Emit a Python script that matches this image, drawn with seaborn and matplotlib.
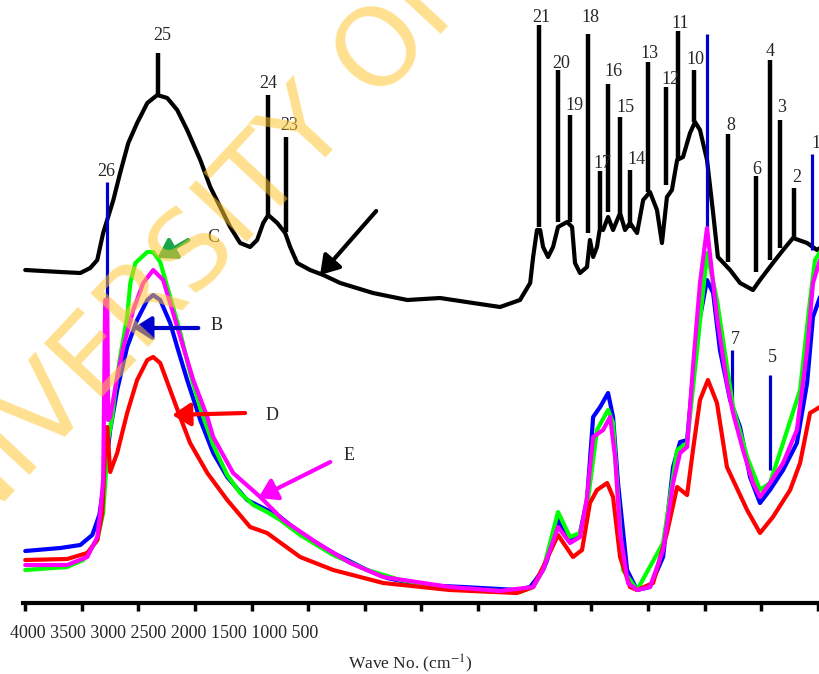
import numpy as np
import pandas as pd
import matplotlib
matplotlib.use('Agg')
import matplotlib.pyplot as plt
import seaborn as sns

# ---- spectra: wavenumber (cm-1) and relative intensity ----
wn_A = [4000, 3845, 3757, 3713, 3682, 3656, 3611, 3581, 3545, 3506, 3461, 3417, 3373, 3329, 3285,
        3227, 3183, 3139, 3095, 3051, 3007, 2976, 2949, 2927, 2887, 2852, 2830, 2799, 2742, 2684,
        2609, 2464, 2313, 2168, 2022, 1903, 1815, 1770, 1757, 1740, 1726, 1713, 1691, 1669, 1647,
        1607, 1585, 1572, 1550, 1519, 1506, 1492, 1475, 1461, 1448, 1426, 1404, 1373, 1351, 1329,
        1298, 1271, 1241, 1210, 1188, 1166, 1144, 1121, 1095, 1064, 1042, 1020, 989, 962, 941,
        887, 843, 786, 755, 698, 653, 609, 547, 503, 490]
int_A = [333, 331, 330, 335, 343, 370, 403, 430, 460, 480, 500, 508, 505, 493, 473,
         443, 416, 396, 376, 360, 356, 363, 380, 388, 380, 370, 356, 340, 333, 328,
         320, 310, 303, 305, 300, 296, 303, 320, 346, 373, 373, 356, 346, 356, 376,
         381, 376, 340, 330, 336, 363, 346, 356, 376, 373, 386, 373, 390, 373, 380,
         370, 403, 411, 393, 360, 406, 413, 443, 446, 470, 481, 473, 443, 390, 346,
         333, 320, 313, 323, 340, 353, 365, 360, 353, 355]

wn_B = [4000, 3845, 3757, 3704, 3673, 3656, 3638, 3625, 3594, 3550, 3506, 3461, 3435, 3404, 3360,
        3329, 3285, 3227, 3170, 3108, 3020, 2932, 2874, 2786, 2640, 2490, 2402, 2256, 2066, 1828,
        1770, 1713, 1695, 1647, 1594, 1550, 1519, 1492, 1461, 1426, 1404, 1382, 1342, 1298, 1241,
        1183, 1139, 1108, 1077, 1033, 989, 962, 932, 887, 843, 799, 755, 711, 653, 592,
        547, 521, 490]
int_B = [52, 55, 58, 68, 88, 113, 148, 173, 213, 256, 283, 303, 308, 303, 280,
         256, 223, 183, 150, 126, 103, 93, 86, 70, 50, 33, 25, 18, 16, 13,
         16, 33, 43, 83, 63, 70, 103, 186, 196, 210, 186, 120, 33, 13, 16,
         46, 136, 161, 163, 270, 323, 310, 253, 203, 176, 126, 100, 113, 133, 160,
         220, 286, 306]

wn_C = [4000, 3815, 3744, 3682, 3656, 3634, 3616, 3603, 3581, 3550, 3536, 3514, 3461, 3435, 3404,
        3360, 3316, 3272, 3227, 3170, 3108, 3051, 2993, 2932, 2874, 2786, 2640, 2490, 2344, 2168,
        1991, 1815, 1757, 1713, 1647, 1594, 1550, 1519, 1475, 1426, 1404, 1360, 1298, 1183, 1121,
        1077, 1033, 989, 945, 874, 812, 755, 711, 653, 578, 534, 512, 490]
int_C = [33, 36, 43, 63, 90, 163, 186, 213, 246, 286, 320, 340, 351, 351, 341,
         306, 271, 230, 195, 158, 128, 110, 98, 91, 83, 68, 48, 33, 23, 16,
         13, 11, 16, 33, 91, 66, 70, 96, 173, 193, 180, 33, 13, 60, 153,
         160, 253, 350, 303, 196, 146, 113, 120, 160, 213, 303, 343, 351]

wn_D = [4000, 3815, 3726, 3682, 3660, 3647, 3638, 3625, 3594, 3550, 3506, 3461, 3435, 3404, 3360,
        3316, 3272, 3196, 3108, 3007, 2932, 2786, 2640, 2419, 2124, 1828, 1757, 1713, 1647, 1581,
        1541, 1506, 1475, 1430, 1404, 1373, 1329, 1298, 1227, 1166, 1121, 1077, 1051, 1020, 985,
        945, 901, 874, 812, 755, 698, 622, 578, 534, 490]
int_D = [43, 44, 50, 63, 90, 156, 176, 131, 150, 190, 223, 243, 246, 240, 213,
         186, 160, 130, 103, 76, 70, 46, 33, 20, 13, 10, 16, 36, 68, 46,
         53, 100, 113, 120, 106, 46, 16, 13, 20, 70, 116, 108, 153, 203, 223,
         200, 136, 123, 93, 70, 86, 113, 140, 190, 196]

wn_E = [4000, 3815, 3726, 3682, 3669, 3656, 3647, 3638, 3634, 3625, 3594, 3567, 3523, 3479, 3435,
        3391, 3347, 3302, 3258, 3196, 3170, 3082, 2962, 2861, 2711, 2565, 2419, 2124, 1903, 1757,
        1713, 1647, 1594, 1550, 1519, 1492, 1448, 1417, 1395, 1373, 1338, 1298, 1241, 1183, 1139,
        1108, 1077, 1051, 1020, 989, 945, 901, 874, 830, 786, 755, 711, 653, 592, 547,
        521, 490]
int_E = [38, 38, 46, 66, 90, 123, 303, 303, 183, 186, 226, 256, 293, 320, 333,
         323, 290, 256, 223, 186, 166, 130, 106, 83, 60, 40, 26, 16, 12, 16,
         33, 76, 60, 66, 106, 166, 173, 186, 146, 70, 20, 13, 16, 53, 120,
         150, 156, 236, 320, 375, 286, 220, 190, 153, 120, 106, 120, 140, 173, 253,
         320, 343]

# numbered peak markers on the top (black) spectrum
peak_no = ['25', '24', '23', '21', '20', '19', '18', '17', '16', '15', '14', '13', '12', '11', '10',
           '8', '6', '4', '3', '2']
peak_wn = [3413, 2927, 2848, 1731, 1647, 1594, 1514, 1461, 1426, 1373, 1329, 1249, 1170, 1117, 1046,
           897, 773, 711, 667, 605]
peak_top = [550, 508, 466, 578, 533, 488, 569, 432, 519, 486, 433, 541, 516, 572, 533,
            469, 427, 543, 483, 415]
peak_base = [508, 388, 371, 376, 381, 381, 370, 375, 391, 390, 375, 411, 418, 443, 481,
             341, 331, 343, 355, 366]
peak_label_wn = [3395, 2927, 2834, 1722, 1634, 1576, 1506, 1453, 1404, 1351, 1302, 1245, 1152, 1108, 1042,
                 883, 768, 711, 658, 592]
peak_label_y = [568, 519, 478, 585, 539, 498, 585, 440, 531, 495, 443, 550, 523, 580, 543,
                477, 434, 552, 495, 426]

# blue markers
blue_no = ['26', '', '1', '7', '5']
blue_wn = [3638, 989, 525, 879, 711]
blue_top = [421, 569, 449, 253, 228]
blue_base = [303, 373, 353, 196, 133]
blue_label_wn = [3642, 989, 508, 865, 702]
blue_label_y = [431, 569, 460, 263, 245]

# sample arrows: (tail wn, tail y) -> (head wn, head y)
arrow_name = ['C', 'B', 'D', 'E', '']
arrow_tail_wn = [3280, 3236, 3029, 2653, 2450]
arrow_tail_y = [363, 275, 190, 141, 392]
arrow_head_wn = [3417, 3523, 3351, 2971, 2698]
arrow_head_y = [345, 275, 188, 105, 328]
arrow_text_wn = [3196, 3183, 2940, 2596, 0]
arrow_text_y = [366, 278, 188, 148, 0]

tick_text = '4000 3500 3000 2500 2000 1500 1000 500'

colors = {'A': 'black', 'B': '#0000ff', 'C': '#00ff00', 'D': '#ff0000', 'E': '#ff00ff'}
arrow_colors = ['#1aa64a', '#0000cc', '#ff0000', '#ff00ff', 'black']

frames = []
for key, wn, val in [('A', wn_A, int_A), ('B', wn_B, int_B), ('C', wn_C, int_C),
                     ('D', wn_D, int_D), ('E', wn_E, int_E)]:
    frames.append(pd.DataFrame({'wn': wn, 'val': val, 'sample': key}))
df = pd.concat(frames, ignore_index=True)

sns.set_style('white')
plt.rcParams['font.family'] = ['Liberation Serif', 'DejaVu Serif']
plt.rcParams['mathtext.fontset'] = 'stix'

fig = plt.figure(figsize=(8.2, 6.74), dpi=100)
ax = fig.add_axes([23 / 820, 71 / 674, 797 / 820, 603 / 674])

# black reference spectrum
sns.lineplot(data=df[df['sample'] == 'A'], x='wn', y='val', color='black', lw=3,
             sort=False, estimator=None, ax=ax, zorder=2)

for wn, lo, hi in zip(peak_wn, peak_base, peak_top):
    ax.plot([wn, wn], [lo, hi], color='black', lw=3.2, solid_capstyle='butt', zorder=2)
for name, x, y in zip(peak_no, peak_label_wn, peak_label_y):
    ax.text(x, y, name, ha='center', va='center', fontsize=13, zorder=4)

for wn, lo, hi in zip(blue_wn, blue_base, blue_top):
    ax.plot([wn, wn], [lo, hi], color='#0000cc', lw=2.3, solid_capstyle='butt', zorder=2.5)
for name, x, y in zip(blue_no, blue_label_wn, blue_label_y):
    if name:
        ax.text(x, y, name, ha='center', va='center', fontsize=13, zorder=4)

# sample spectra
for key in ['B', 'C', 'D', 'E']:
    sns.lineplot(data=df[df['sample'] == key], x='wn', y='val', color=colors[key], lw=3,
                 sort=False, estimator=None, ax=ax, zorder=3)

for i in range(len(arrow_name)):
    ax.annotate('', xy=(arrow_head_wn[i], arrow_head_y[i]),
                xytext=(arrow_tail_wn[i], arrow_tail_y[i]),
                arrowprops=dict(arrowstyle='-|>,head_length=0.55,head_width=0.35',
                                color=arrow_colors[i], lw=3, shrinkA=0, shrinkB=0,
                                mutation_scale=20), zorder=4)
    if arrow_name[i]:
        ax.text(arrow_text_wn[i], arrow_text_y[i], arrow_name[i], ha='left', va='center',
                fontsize=13, zorder=4)

ax.set_xlim(4010, 490)
ax.set_ylim(0, 603)
ax.set_xticks(np.arange(4000, 499, -250))
ax.set_xticklabels([])
ax.set_yticks([])
ax.set_xlabel('')
ax.set_ylabel('')
for s in ['left', 'right', 'top']:
    ax.spines[s].set_visible(False)
ax.spines['bottom'].set_linewidth(3)
ax.spines['bottom'].set_color('black')
ax.tick_params(axis='x', direction='out', length=6, width=2.5, color='black', bottom=True)
ax.patch.set_alpha(0)

fig.text(10 / 820, 1 - 633 / 674, tick_text, ha='left', va='center', fontsize=13)
fig.text(410 / 820, 1 - 664 / 674, r'Wave No. (cm$^{-1}$)', ha='center', va='center', fontsize=12.5)

# watermark
fig.text(-86 / 820, 1 - 600 / 674, 'UNIVERSITY OF CAPE COAST', rotation=47,
         rotation_mode='anchor', ha='left', va='baseline', fontsize=78,
         family='DejaVu Sans', color=(1.0, 0.78, 0.2), alpha=0.55, zorder=10)

fig.savefig('out.png', dpi=100)
